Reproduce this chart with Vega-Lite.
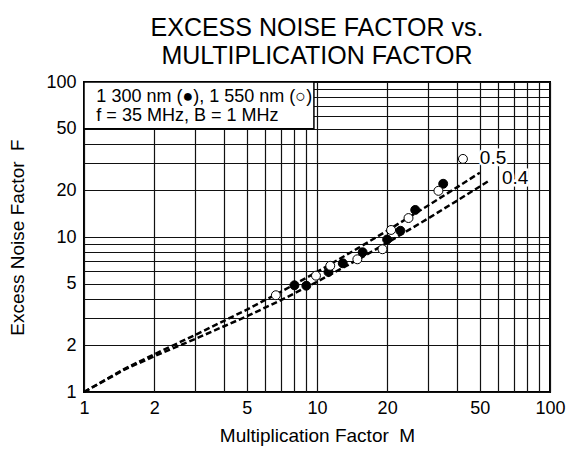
{
  "$schema": "https://vega.github.io/schema/vega-lite/v6.json",
  "width": 466,
  "height": 310,
  "autosize": {"type": "none"},
  "padding": {"left": 84, "top": 82, "right": 16, "bottom": 61},
  "background": "white",
  "title": {
    "text": ["EXCESS NOISE FACTOR vs.", "MULTIPLICATION FACTOR"],
    "font": "Liberation Sans",
    "fontSize": 25,
    "fontWeight": "normal",
    "lineHeight": 28,
    "color": "#000",
    "anchor": "middle",
    "offset": 4
  },
  "config": {
    "font": "Liberation Sans",
    "view": {"stroke": "#000", "strokeWidth": 2},
    "axis": {
      "grid": true,
      "gridColor": "#111",
      "gridWidth": 1.2,
      "gridOpacity": 1,
      "domain": false,
      "ticks": false,
      "labelFont": "Liberation Sans",
      "labelFontSize": 18,
      "labelColor": "#000",
      "titleFont": "Liberation Sans",
      "titleFontSize": 19,
      "titleFontWeight": "normal",
      "titleColor": "#000",
      "labelOverlap": false,
      "labelFlush": false
    }
  },
  "datasets": {
    "curves": [
      {"M": 1, "F": 1, "k": "0.5"},
      {"M": 1.5, "F": 1.417, "k": "0.5"},
      {"M": 2, "F": 1.75, "k": "0.5"},
      {"M": 3, "F": 2.333, "k": "0.5"},
      {"M": 5, "F": 3.4, "k": "0.5"},
      {"M": 7, "F": 4.43, "k": "0.5"},
      {"M": 10, "F": 5.95, "k": "0.5"},
      {"M": 15, "F": 8.47, "k": "0.5"},
      {"M": 20, "F": 10.98, "k": "0.5"},
      {"M": 30, "F": 15.98, "k": "0.5"},
      {"M": 40, "F": 20.99, "k": "0.5"},
      {"M": 50, "F": 25.99, "k": "0.5"},
      {"M": 1, "F": 1, "k": "0.4"},
      {"M": 1.5, "F": 1.4, "k": "0.4"},
      {"M": 2, "F": 1.7, "k": "0.4"},
      {"M": 3, "F": 2.2, "k": "0.4"},
      {"M": 5, "F": 3.08, "k": "0.4"},
      {"M": 7, "F": 3.91, "k": "0.4"},
      {"M": 10, "F": 5.14, "k": "0.4"},
      {"M": 15, "F": 7.16, "k": "0.4"},
      {"M": 20, "F": 9.17, "k": "0.4"},
      {"M": 30, "F": 13.18, "k": "0.4"},
      {"M": 40, "F": 17.19, "k": "0.4"},
      {"M": 50, "F": 21.19, "k": "0.4"},
      {"M": 55.4, "F": 23.35, "k": "0.4"}
    ],
    "points": [
      {"M": 8.0, "F": 4.88, "wl": "1300 nm"},
      {"M": 9.0, "F": 4.85, "wl": "1300 nm"},
      {"M": 11.2, "F": 5.95, "wl": "1300 nm"},
      {"M": 12.9, "F": 6.77, "wl": "1300 nm"},
      {"M": 15.7, "F": 7.97, "wl": "1300 nm"},
      {"M": 20.0, "F": 9.63, "wl": "1300 nm"},
      {"M": 22.8, "F": 10.97, "wl": "1300 nm"},
      {"M": 26.4, "F": 14.95, "wl": "1300 nm"},
      {"M": 34.8, "F": 22.05, "wl": "1300 nm"},
      {"M": 6.66, "F": 4.21, "wl": "1550 nm"},
      {"M": 9.9, "F": 5.63, "wl": "1550 nm"},
      {"M": 11.4, "F": 6.52, "wl": "1550 nm"},
      {"M": 14.9, "F": 7.18, "wl": "1550 nm"},
      {"M": 19.1, "F": 8.34, "wl": "1550 nm"},
      {"M": 20.8, "F": 11.1, "wl": "1550 nm"},
      {"M": 24.7, "F": 13.25, "wl": "1550 nm"},
      {"M": 33.2, "F": 19.85, "wl": "1550 nm"},
      {"M": 42.3, "F": 31.9, "wl": "1550 nm"}
    ],
    "box": [
      {"M": 1, "M2": 9.7, "F": 50, "F2": 100}
    ],
    "legendText": [
      {"M": 1.13, "F": 80, "text": "1 300 nm (●), 1 550 nm (○)"},
      {"M": 1.13, "F": 60.4, "text": "f = 35 MHz, B = 1 MHz"}
    ],
    "curveLabels": [
      {"M": 50, "F": 32.4, "text": "0.5"},
      {"M": 62.2, "F": 24, "text": "0.4"}
    ]
  },
  "encoding": {
    "x": {
      "field": "M",
      "type": "quantitative",
      "scale": {"type": "log", "domain": [1, 100], "nice": false},
      "axis": {
        "title": "Multiplication Factor \u00a0M",
        "values": [1, 2, 3, 4, 5, 6, 7, 8, 9, 10, 20, 30, 40, 50, 60, 70, 80, 90, 100],
        "labelExpr": "indexof([1, 2, 5, 10, 20, 50, 100], datum.value) >= 0 ? datum.label : ''",
        "labelPadding": 7,
        "titlePadding": 9
      }
    },
    "y": {
      "field": "F",
      "type": "quantitative",
      "scale": {"type": "log", "domain": [1, 100], "nice": false},
      "axis": {
        "title": "Excess Noise Factor \u00a0F",
        "values": [1, 2, 3, 4, 5, 6, 7, 8, 9, 10, 20, 30, 40, 50, 60, 70, 80, 90, 100],
        "labelExpr": "indexof([1, 2, 5, 10, 20, 50, 100], datum.value) >= 0 ? datum.label : ''",
        "labelPadding": 8,
        "titlePadding": 18
      }
    }
  },
  "layer": [
    {
      "data": {"name": "curves"},
      "mark": {"type": "line", "color": "#000", "strokeWidth": 2.5, "strokeDash": [6, 3]},
      "encoding": {"detail": {"field": "k"}}
    },
    {
      "data": {"name": "box"},
      "mark": {"type": "rect", "fill": "#fff", "stroke": "#000", "strokeWidth": 1.5},
      "encoding": {
        "x2": {"field": "M2"},
        "y2": {"field": "F2"}
      }
    },
    {
      "data": {"name": "legendText"},
      "mark": {"type": "text", "align": "left", "baseline": "middle", "fontSize": 18, "color": "#000"},
      "encoding": {"text": {"field": "text"}}
    },
    {
      "data": {"name": "points"},
      "mark": {"type": "point", "shape": "circle", "filled": true, "size": 80, "stroke": "#000", "strokeWidth": 1, "opacity": 1},
      "encoding": {
        "fill": {"field": "wl", "type": "nominal", "scale": {"domain": ["1300 nm", "1550 nm"], "range": ["#000", "#fff"]}, "legend": null}
      }
    },
    {
      "data": {"name": "curveLabels"},
      "mark": {"type": "text", "align": "left", "baseline": "middle", "fontSize": 19, "stroke": "#fff", "strokeWidth": 5, "fill": "#fff"},
      "encoding": {"text": {"field": "text"}}
    },
    {
      "data": {"name": "curveLabels"},
      "mark": {"type": "text", "align": "left", "baseline": "middle", "fontSize": 19, "fill": "#000"},
      "encoding": {"text": {"field": "text"}}
    }
  ]
}
